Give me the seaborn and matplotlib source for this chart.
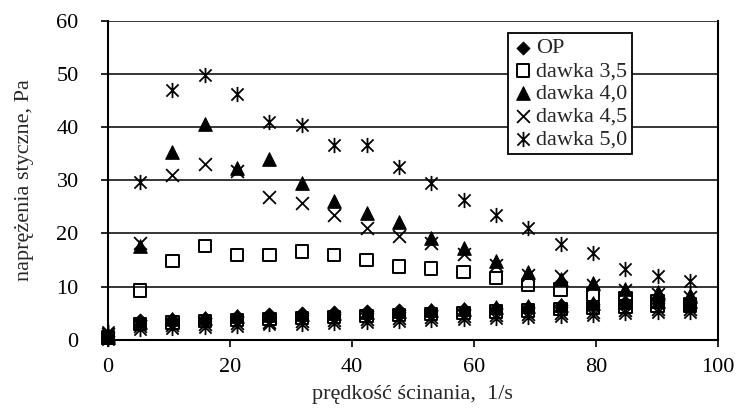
import seaborn as sns
import pandas as pd
import matplotlib.pyplot as plt
from matplotlib.path import Path

# shear rate, 1/s
rate = [0, 5.3, 10.6, 15.9, 21.2, 26.5, 31.8, 37.1, 42.4, 47.7,
        53.0, 58.3, 63.6, 68.9, 74.2, 79.5, 84.8, 90.1, 95.4]

# shear stress, Pa
op = [0.8, 3.8, 4.0, 4.2, 4.5, 4.8, 5.0, 5.2, 5.4, 5.6,
      5.7, 5.8, 6.0, 6.2, 6.5, 6.8, 7.2, 7.3, 7.0]

d35_up = [0.5, 9.3, 14.8, 17.6, 16.0, 16.0, 16.6, 16.0, 15.0, 13.8,
          13.4, 12.8, 11.6, 10.3, 9.5, 8.5, 7.8, 7.2, 6.8]
d35_down = [0.4, 3.0, 3.3, 3.5, 3.7, 3.9, 4.1, 4.3, 4.5, 4.7,
            4.9, 5.1, 5.3, 5.5, 5.8, 6.0, 6.3, 6.5, 6.5]

d40_up = [1.0, 17.6, 35.3, 40.5, 32.3, 33.9, 29.5, 26.1, 23.9, 22.2,
          19.2, 17.2, 14.8, 12.8, 11.4, 10.6, 9.5, 9.0, 8.5]
d40_down = [0.6, 3.4, 3.9, 4.1, 4.4, 4.7, 4.9, 5.1, 5.3, 5.5,
            5.7, 5.9, 6.1, 6.3, 6.6, 6.9, 7.2, 7.4, 7.3]

d45_up = [1.2, 18.3, 31.0, 33.0, 31.8, 26.9, 25.8, 23.5, 21.1, 19.5,
          18.2, 16.2, 14.0, 12.2, 12.0, 10.4, 9.3, 8.6, 8.0]
d45_down = [0.3, 2.6, 2.8, 3.0, 3.2, 3.4, 3.5, 3.7, 3.9, 4.1,
            4.3, 4.4, 4.6, 4.8, 5.0, 5.3, 5.6, 5.8, 5.9]

d50_up = [1.5, 29.6, 47.0, 49.7, 46.3, 41.0, 40.3, 36.6, 36.6, 32.5,
          29.5, 26.2, 23.5, 21.1, 18.1, 16.3, 13.3, 12.0, 11.0]
d50_down = [0.2, 2.1, 2.3, 2.5, 2.7, 2.9, 3.0, 3.2, 3.4, 3.5,
            3.7, 3.9, 4.1, 4.3, 4.5, 4.7, 5.0, 5.2, 5.3]

labels = ['OP', 'dawka 3,5', 'dawka 4,0', 'dawka 4,5', 'dawka 5,0']

#%%
def frame(ys):
    xs = rate * (len(ys) // len(rate))
    return pd.DataFrame(dict(x=xs, y=ys))

data = [frame(op), frame(d35_up + d35_down), frame(d40_up + d40_down),
        frame(d45_up + d45_down), frame(d50_up + d50_down)]

# excel-like star: x with a vertical bar
star = Path([(-0.8, -0.8), (0.8, 0.8), (-0.8, 0.8), (0.8, -0.8), (0, -1), (0, 1)],
            [Path.MOVETO, Path.LINETO, Path.MOVETO, Path.LINETO, Path.MOVETO, Path.LINETO])

styles = [
    dict(marker='D', s=45, color='black', edgecolor='black'),
    dict(marker='s', s=80, facecolor='none', edgecolor='black', linewidth=1.4),
    dict(marker='^', s=95, color='black', edgecolor='black'),
    dict(marker='x', s=85, color='black', edgecolor='black', linewidth=1.3),
    dict(marker=star, s=120, color='black', edgecolor='black', linewidth=1.3),
]

#%%
sns.set_style('white')
plt.rcParams['font.family'] = ['Liberation Serif', 'DejaVu Serif']

fig = plt.figure(figsize=(7.38, 4.12), dpi=100)
ax = fig.add_axes([0.146, 0.175, 0.827, 0.775])

for df, lab, st in zip(data, labels, styles):
    sns.scatterplot(data=df, x='x', y='y', ax=ax, label=lab, clip_on=False, zorder=3, **st)

ax.set_xlim(0, 100)
ax.set_ylim(0, 60)
ax.set_xticks(range(0, 101, 20))
ax.set_yticks(range(0, 61, 10))
ax.yaxis.grid(True, color='black', linewidth=1.1)
ax.xaxis.grid(False)
ax.set_axisbelow(True)
for side in ['left', 'bottom', 'right']:
    ax.spines[side].set_color('black')
    ax.spines[side].set_linewidth(1.5)
ax.spines['top'].set_visible(False)
ax.tick_params(axis='both', direction='out', length=5, width=1.2, colors='black',
               labelsize=16)
ax.tick_params(axis='x', bottom=True, pad=8)
ax.tick_params(axis='y', left=True, pad=16)

ax.set_xlabel('prędkość ścinania,  1/s', fontsize=16, labelpad=6)
ax.set_ylabel('naprężenia styczne, Pa', fontsize=16, labelpad=16)

leg = ax.legend(loc='upper left', bbox_to_anchor=(0.655, 0.96), frameon=True,
                fancybox=False, edgecolor='black', fontsize=16, labelspacing=0.1,
                handletextpad=0.1, borderpad=0.2, handlelength=1.0,
                borderaxespad=0)
leg.get_frame().set_linewidth(1.3)
leg.get_frame().set_facecolor('white')
leg.get_frame().set_alpha(1)
leg.set_zorder(5)

fig.savefig('out.png', dpi=100)
